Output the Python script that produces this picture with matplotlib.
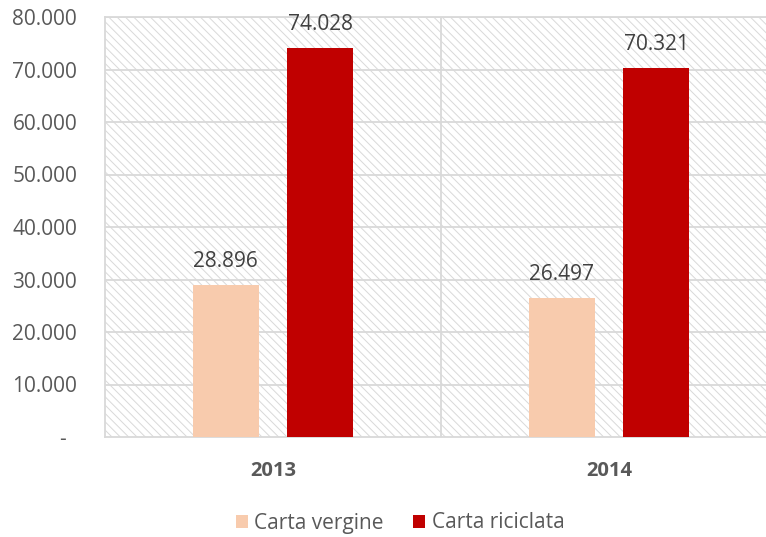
import numpy as np
import matplotlib.pyplot as plt
from matplotlib.patches import Rectangle

# data
anni = ['2013', '2014']
carta_vergine = [28896, 26497]
carta_riciclata = [74028, 70321]
yticks = [0, 10000, 20000, 30000, 40000, 50000, 60000, 70000, 80000]

grey = '#595959'
plt.rcParams['font.family'] = ['Open Sans', 'DejaVu Sans']
plt.rcParams['hatch.color'] = '#d9d9d9'
plt.rcParams['hatch.linewidth'] = 0.7


def fmt(v):
    if v == 0:
        return '-  '
    return f'{v:,.0f}'.replace(',', '.')


fig = plt.figure(figsize=(7.66, 5.37), dpi=100)
ax = fig.add_axes([105 / 766, 100 / 537, 672 / 766, 420 / 537])

# hatched plot area
ax.add_patch(Rectangle((0, 0), 1, 1, transform=ax.transAxes, facecolor='white',
                       edgecolor='#d9d9d9', hatch='\\\\\\\\', lw=0, zorder=0))

x = np.arange(len(anni))
w = 0.196
off = 0.141
b1 = ax.bar(x - off, carta_vergine, w, color='#f8cbad', label='Carta vergine', zorder=3)
b2 = ax.bar(x + off, carta_riciclata, w, color='#c00000', label='Carta riciclata', zorder=3)

for bars in (b1, b2):
    for r in bars:
        v = r.get_height()
        ax.annotate(fmt(v), (r.get_x() + r.get_width() / 2, v), xytext=(0, 13),
                    textcoords='offset points', ha='center', va='baseline',
                    fontsize=15, color='#404040', zorder=4)

ax.set_xlim(-0.5, 1.5)
ax.set_ylim(0, 80000)
ax.set_yticks(yticks)
ax.set_yticklabels([fmt(v) for v in yticks], fontsize=15, color=grey)
ax.set_xticks(x)
ax.set_xticklabels(anni, fontsize=14.5, fontweight='bold', color=grey)
ax.tick_params(length=0)
ax.tick_params(axis='y', pad=20)
ax.tick_params(axis='x', pad=17)

for v in yticks[1:]:
    ax.axhline(v, color='#d9d9d9', lw=1.3, zorder=1)
ax.axvline(0.5, color='#d9d9d9', lw=1.3, zorder=1)
for s in ax.spines.values():
    s.set_color('#d9d9d9')
    s.set_linewidth(1.3)

fig.legend(handles=[b1, b2], loc='center', bbox_to_anchor=(400 / 766, 14 / 537), ncol=2,
           frameon=False, fontsize=15, labelcolor=grey, handlelength=0.6,
           handleheight=0.6, handletextpad=0.3, columnspacing=1.4)

fig.savefig('out.png', dpi=100)
